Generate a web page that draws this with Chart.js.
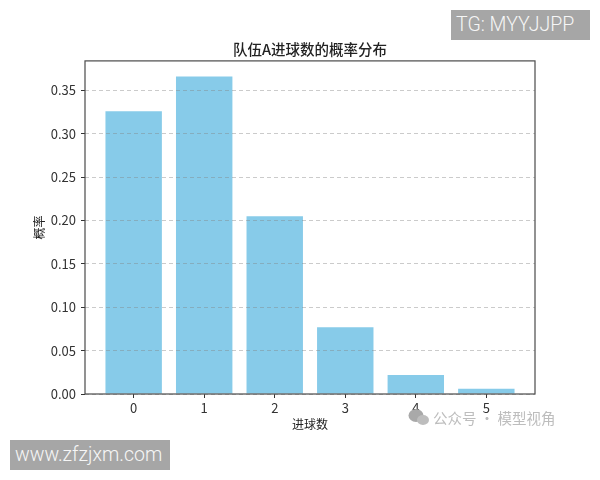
<!DOCTYPE html>
<html><head><meta charset="utf-8">
<script src="https://cdn.jsdelivr.net/npm/chart.js@4"></script>
<style>
html,body{margin:0;padding:0;background:#fff;width:600px;height:480px;overflow:hidden}
#wrap{position:relative;width:600px;height:480px}
canvas{position:absolute;left:0;top:0;filter:blur(0.4px)}
.tag{position:absolute;background:#a6a6a6;color:#f6f6f6;font-family:Roboto,"Liberation Sans",sans-serif;font-weight:300;font-size:19.5px;line-height:30px;height:30px;white-space:nowrap;box-sizing:border-box}
#wm{position:absolute;left:433px;top:408px;color:#bdbdbd;font-family:"Noto Sans CJK SC",sans-serif;font-size:14.5px;line-height:20px;white-space:nowrap}
#ic{position:absolute;left:408px;top:407px}
</style></head><body>
<div id="wrap">
<canvas id="c" width="600" height="480"></canvas>
<div class="tag" style="left:451px;top:10px;width:139px;padding-left:5px">TG: MYYJJPP</div>
<div class="tag" style="left:10px;top:440px;width:160px;padding-left:5px">www.zfzjxm.com</div>
<svg id="ic" width="22" height="22" viewBox="0 0 22 22"><ellipse cx="8" cy="8.5" rx="7.5" ry="6.5" fill="#a9a9a9"/><ellipse cx="15" cy="13" rx="6" ry="5" fill="#bdbdbd"/></svg>
<div id="wm">公众号 · 模型视角</div>
</div>
<script>
const categories=[0,1,2,3,4,5];
const probabilities=[0.326,0.366,0.205,0.077,0.022,0.006];
const yTicks=[0,0.05,0.10,0.15,0.20,0.25,0.30,0.35];
const titleText='队伍A进球数的概率分布';
const xLabel='进球数';
const yLabel='概率';
const font='"Liberation Sans Narrow","Noto Sans CJK SC",sans-serif';
const cjk='"Noto Sans CJK SC",sans-serif';
const border={id:'frame',afterDraw(ch){const a=ch.chartArea,c=ch.ctx;c.save();c.strokeStyle='#4a4a4a';c.lineWidth=1.2;c.strokeRect(a.left,a.top,a.right-a.left,a.bottom-a.top);c.restore();}};
new Chart(document.getElementById('c'),{
 type:'bar',
 data:{datasets:[{data:categories.map((x,i)=>({x,y:probabilities[i]})),backgroundColor:'#87CBE9',barPercentage:0.8,categoryPercentage:1,borderWidth:0}]},
 plugins:[border],
 options:{responsive:false,animation:false,
  layout:{padding:{left:0,right:65,top:0,bottom:48}},
  plugins:{legend:{display:false},tooltip:{enabled:false},
   title:{display:true,fullSize:false,text:titleText,font:{family:cjk,size:14.5,weight:'500'},color:'#222',padding:{top:41,bottom:2.5}}},
  scales:{
   x:{type:'linear',offset:false,min:-0.69,max:5.69,
      afterBuildTicks(s){s.ticks=categories.map(v=>({value:v}));},
      grid:{display:true,offset:false,drawOnChartArea:false,drawTicks:true,tickLength:4,tickColor:'#333'},border:{display:false},
      ticks:{font:{family:font,size:13},color:'#333',padding:2,maxRotation:0,callback:v=>String(v)},
      title:{display:true,text:xLabel,font:{family:cjk,size:12},color:'#222',padding:{top:0,bottom:0}},
      afterFit(s){s.height=38;}},
   y:{min:0,max:0.384,
      afterBuildTicks(s){s.ticks=yTicks.map(v=>({value:v}));},
      grid:{color:'rgba(130,130,130,0.42)',z:1,lineWidth:1,tickColor:'#333',tickLength:4,drawTicks:true,tickBorderDash:[0,0]},border:{display:false,dash:[4,3]},
      ticks:{font:{family:font,size:13},color:'#333',padding:5,callback:v=>v.toFixed(2)},
      title:{display:true,text:yLabel,font:{family:cjk,size:12},color:'#222',padding:{top:32,bottom:0}},
      afterFit(s){s.width=85;}}
  }}
});
</script>
</body></html>
